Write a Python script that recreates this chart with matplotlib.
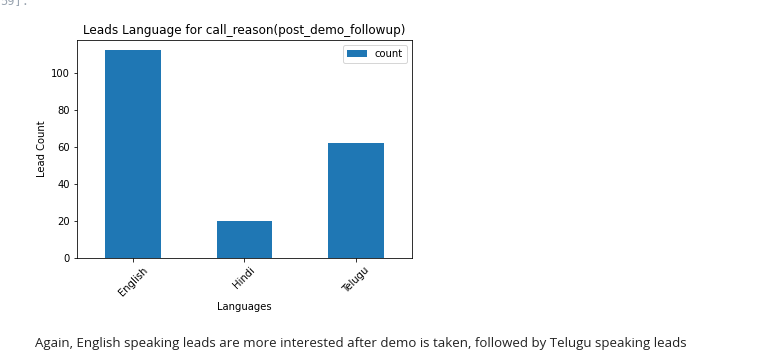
import numpy as np
import matplotlib.pyplot as plt

languages = ['English', 'Hindi', 'Telugu']
counts = [112, 20, 62]

fig = plt.figure(figsize=(777 / 72, 361 / 72), dpi=72)
ax = fig.add_axes([77 / 777, 1 - 258 / 361, 335 / 777, 218 / 361])

x = np.arange(len(languages))
ax.bar(x, counts, width=0.5, color='#1f77b4', label='count')
ax.set_xlim(-0.5, len(languages) - 0.5)
ax.set_xticks(x)
ax.set_xticklabels(languages, rotation=45)
ax.set_title('Leads Language for call_reason(post_demo_followup)')
ax.set_xlabel('Languages')
ax.set_ylabel('Lead Count')
ax.legend(loc='upper right')

# notebook remnants
fig.text(0.0, 1 - 1 / 361, '59]:', color='#9aa5b1', fontsize=12,
         family='DejaVu Sans Mono', va='center', ha='left')
fig.text(35 / 777, 1 - 343 / 361,
         'Again, English speaking leads are more interested after demo is taken, '
         'followed by Telugu speaking leads',
         color='#222222', fontsize=13.2, family='Open Sans', va='center')

fig.savefig('out.png', dpi=72)
